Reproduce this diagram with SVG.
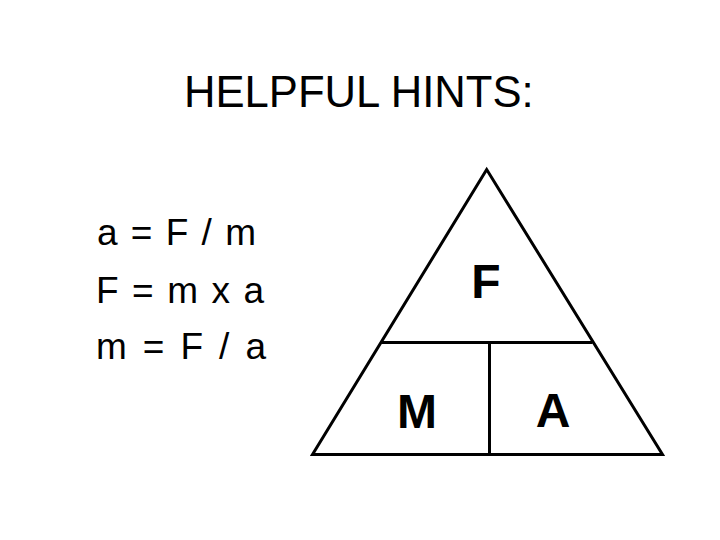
<svg xmlns="http://www.w3.org/2000/svg" width="720" height="540" viewBox="0 0 720 540">
<style>
text{font-family:"Liberation Sans",Arial,sans-serif;fill:#000}
.title{font-size:43.6px}
.eq{font-size:37px}
.lbl{font-size:48px;font-weight:bold;text-anchor:middle}
.ln{stroke:#000;stroke-width:3;fill:none;stroke-linejoin:miter}
</style>
<rect width="720" height="540" fill="#fff"/>
<g id="title"><text class="title" x="184" y="107">HELPFUL HINTS:</text></g>
<g id="equations">
<text class="eq" x="97" y="244.5" textLength="159" lengthAdjust="spacing">a = F / m</text>
<text class="eq" x="96" y="302.5" textLength="168" lengthAdjust="spacing">F = m x a</text>
<text class="eq" x="96" y="359" textLength="170" lengthAdjust="spacing">m =  F / a</text>
</g>
<g id="triangle">
<polygon class="ln" points="486.7,169.5 312.5,454.5 662.5,454.5"/>
<line class="ln" x1="381.5" y1="342.5" x2="592.5" y2="342.5"/>
<line class="ln" x1="489.5" y1="342.5" x2="489.5" y2="454.5"/>
</g>
<g id="node-F"><text class="lbl" x="486" y="298">F</text></g>
<g id="node-M"><text class="lbl" x="417" y="428">M</text></g>
<g id="node-A"><text class="lbl" x="553" y="427">A</text></g>
</svg>
